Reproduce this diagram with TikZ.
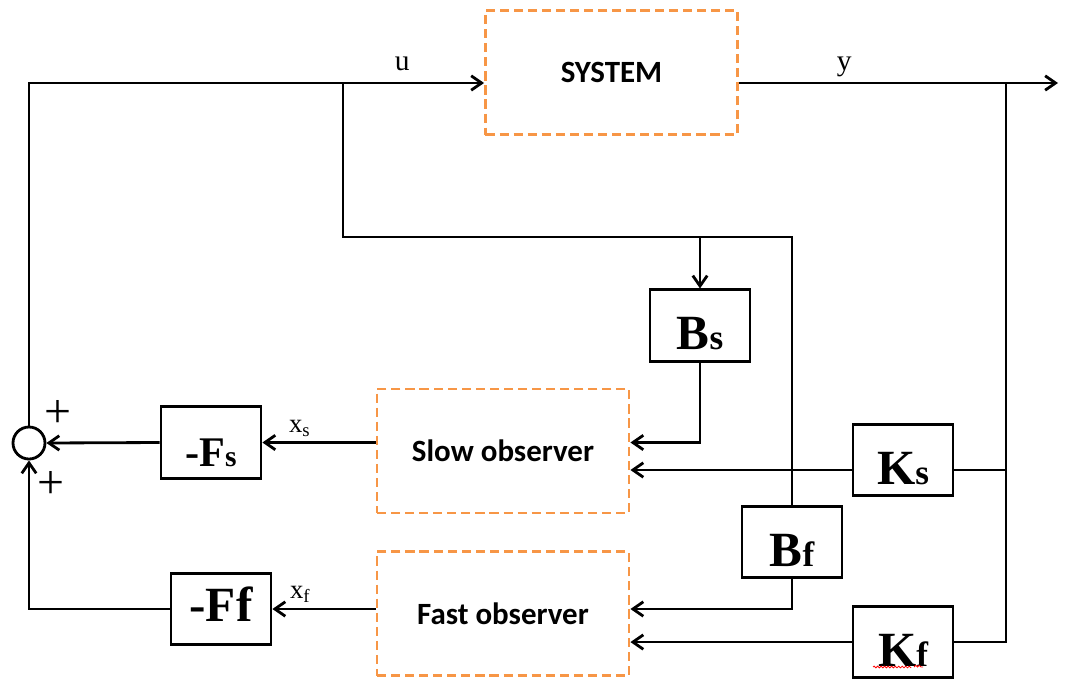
\documentclass[tikz,border=0pt]{standalone}
\usepackage{fontspec}
\setmainfont{Liberation Serif}
\newfontfamily\calibri{Carlito}
\usepackage{tikz}
\usetikzlibrary{positioning, arrows.meta, decorations.pathmorphing}
\definecolor{obsorange}{HTML}{F79646}
\newcommand{\gbig}[1]{{\fontsize{35}{37}\selectfont #1}}
\newcommand{\gsmall}[1]{{\fontsize{25}{27}\selectfont #1}}

\begin{document}
\begin{tikzpicture}[
  x=0.025cm, y=-0.025cm, line width=2pt,
  obs/.style={draw=obsorange, dash pattern=on 6.5pt off 3.5pt, minimum width=6.3cm, minimum height=3.1cm, font=\calibri\bfseries\fontsize{22}{26}\selectfont},
  gain/.style={draw, minimum width=2.5cm, minimum height=1.78cm, inner sep=0pt, text height=1.2cm, text depth=0pt, font=\bfseries},
  sumnode/.style={draw, circle, minimum size=0.8cm, inner sep=0pt},
  arrow/.style={-{Straight Barb[length=2.6mm, width=3.6mm]}},
  lbl/.style={font=\fontsize{21}{24}\selectfont, draw=none},
  sgn/.style={font=\fontsize{34}{36}\selectfont, inner sep=0pt}]

  \useasboundingbox (0,0) rectangle (1065,679);

  \node[obs] (sys) at (611.5,72.5) {SYSTEM};
  \node[obs] (slow) at (503,451) {Slow observer};
  \node[obs, below=9mm of slow] (fast) {Fast observer};
  \node[gain] (bs) at (700,325.5) {\gbig{B}\gsmall{s}};
  \node[gain] (bf) at (792,542) {\gbig{B}\gsmall{f}};
  \node[gain] (ks) at (903,460) {\gbig{K}\gsmall{s}};
  \node[gain, below=2.7cm of ks] (kf) {\gbig{K}\gsmall{f}};
  \node[gain] (fs) at (211,442.5) {{\fontsize{30}{32}\selectfont -F}{\fontsize{21}{23}\selectfont s}};
  \node[gain, text height=0.6cm] (ff) at (221,609) {\gbig{-Ff}};
  \node[sumnode] (sum) at (29,443) {};
  \node[sgn] (plus1) at (58,414) {+};
  \node[sgn] (plus2) at (51,485) {+};

  \coordinate (ubr) at (343,83);
  \coordinate (bjoin) at (792,237);
  \coordinate (ybr) at (1006,83);
  \coordinate (yout) at (1058,83);
  \coordinate (kstap) at (1006,470);

  \draw[arrow] (sum.north) |- node[lbl, above=4pt, pos=0.91]{u} (sys.west |- ubr);
  \draw (ubr) |- (bjoin) -- (bf.north);
  \draw[arrow] (bs.north |- bjoin) -- (bs.north);
  \draw[arrow] (sys.east |- ybr) -- node[lbl, above, pos=0.33]{y} (yout);
  \draw (ybr) |- (kf.east);
  \draw (kstap) -- (ks.east |- kstap);
  \draw[arrow] (ks.west |- kstap) -- (slow.east |- kstap);
  \draw[arrow] (bs.south) |- (slow.east |- fs);
  \draw[arrow] (bf.south) |- (fast.east |- ff);
  \draw[arrow] (kf.west) -- (fast.east |- kf);
  \draw[arrow] (slow.west |- fs) -- node[lbl, font=\fontsize{19}{21}\selectfont, above, pos=0.67]{x\textsubscript{s}} (fs.east);
  \draw[arrow] (fast.west |- ff) -- node[lbl, font=\fontsize{19}{21}\selectfont, above, pos=0.73]{x\textsubscript{f}} (ff.east);
  \draw[arrow] (fs.west) -- (sum.east);
  \draw[arrow] (ff.west) -| (sum.south);

  % spell-check marks under Kf
  \draw[red, line width=0.6pt, decorate, decoration={snake, amplitude=0.6pt, segment length=2.5pt}] (873,667) -- (911,667) (914,667) -- (923,667);
\end{tikzpicture}
\end{document}
